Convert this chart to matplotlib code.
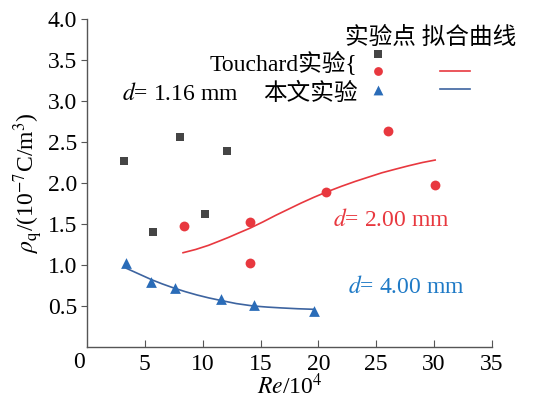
import matplotlib.pyplot as plt

plt.rcParams['font.family'] = ['Liberation Serif', 'Noto Sans CJK SC']
plt.rcParams['mathtext.fontset'] = 'stix'

# Touchard experiments, d = 1.16 mm
tou_x = [3.2, 8.0, 12.1, 10.2, 5.7]
tou_y = [2.27, 2.56, 2.39, 1.62, 1.40]

# Touchard experiments, d = 2.00 mm
red_x = [8.4, 14.1, 14.1, 20.7, 26.0, 30.1]
red_y = [1.48, 1.52, 1.03, 1.89, 2.63, 1.98]
red_fit_x = [8.3, 9.4, 10.5, 11.4, 12.2, 13.1, 14.1, 15.2, 16.3, 17.4, 18.5,
             19.6, 20.7, 22.0, 23.2, 24.4, 25.5, 26.7, 27.8, 29.0, 30.1]
red_fit_y = [1.15, 1.19, 1.24, 1.29, 1.335, 1.39, 1.45, 1.525, 1.605, 1.68, 1.755,
             1.825, 1.89, 1.96, 2.02, 2.075, 2.125, 2.17, 2.21, 2.25, 2.28]

# this work, d = 4.00 mm
blue_x = [3.4, 5.5, 7.6, 11.6, 14.4, 19.6]
blue_y = [1.02, 0.79, 0.72, 0.58, 0.51, 0.44]
blue_fit_x = [3.4, 4.5, 5.6, 6.5, 7.5, 8.5, 9.5, 10.5, 11.5, 12.9, 14.4,
              15.6, 16.8, 18.2, 19.6]
blue_fit_y = [0.96, 0.89, 0.82, 0.77, 0.72, 0.675, 0.635, 0.60, 0.57, 0.53, 0.50,
              0.487, 0.477, 0.467, 0.46]

gray = '#454545'
red = '#e8383f'
blue = '#2a6cb8'
blue_line = '#3d64a0'

fig = plt.figure(figsize=(5.34, 4.04), dpi=100)
ax = fig.add_axes([0.163, 0.141, 0.758, 0.812])

ax.scatter(tou_x, tou_y, marker='s', s=38, color=gray, lw=0, zorder=3)
ax.scatter(red_x, red_y, marker='o', s=50, color=red, lw=0, zorder=3)
ax.scatter(blue_x, blue_y, marker='^', s=60, color=blue, lw=0, zorder=3)
ax.plot(red_fit_x, red_fit_y, color=red, lw=1.2)
ax.plot(blue_fit_x, blue_fit_y, color=blue_line, lw=1.2)

ax.set_xlim(0, 35)
ax.set_ylim(0, 4.0)
ax.set_xticks(range(5, 36, 5))
ax.set_yticks([0.5, 1.0, 1.5, 2.0, 2.5, 3.0, 3.5, 4.0])
ax.set_yticklabels(['0.5', '1.0', '1.5', '2.0', '2.5', '3.0', '3.5', '4.0'])
for s in ['top', 'right']:
    ax.spines[s].set_visible(False)
for s in ['left', 'bottom']:
    ax.spines[s].set_color('#555555')
    ax.spines[s].set_linewidth(1.0)
ax.tick_params(axis='x', direction='in', length=5, pad=5, labelsize=17, color='#555555')
ax.tick_params(axis='y', direction='out', length=4, pad=3, labelsize=17, color='#555555')
ax.text(-0.7, -0.015, '0', transform=ax.get_xaxis_transform(), ha='center', va='top', fontsize=17)

ax.set_xlabel(r'$Re$/10$^4$', fontsize=17, labelpad=-1)
ax.set_ylabel(r'$\rho_{\rm q}$/(10$^{-7}$C/m$^3$)', fontsize=17, labelpad=2)

# curve labels
ax.text(3.0, 3.09, r'$d$= 1.16 mm', fontsize=17, va='center')
ax.text(21.3, 1.55, r'$d$= 2.00 mm', fontsize=17, va='center', color=red)
ax.text(22.6, 0.73, r'$d$= 4.00 mm', fontsize=17, va='center', color='#1f7ac6')

# hand-built legend
ax.text(22.3, 3.77, '实验点 拟合曲线', fontsize=17, va='center')
ax.text(23.4, 3.46, 'Touchard实验{', fontsize=17, va='center', ha='right')
ax.text(23.4, 3.09, '本文实验', fontsize=17, va='center', ha='right')
ax.scatter([25.2], [3.57], marker='s', s=30, color=gray, lw=0, clip_on=False)
ax.scatter([25.2], [3.36], marker='o', s=40, color=red, lw=0, clip_on=False)
ax.scatter([25.2], [3.14], marker='^', s=50, color=blue, lw=0, clip_on=False)
ax.plot([30.5, 33.1], [3.36, 3.36], color=red, lw=1.2, clip_on=False)
ax.plot([30.5, 33.1], [3.15, 3.15], color=blue_line, lw=1.2, clip_on=False)

fig.savefig('out.png', dpi=100)
